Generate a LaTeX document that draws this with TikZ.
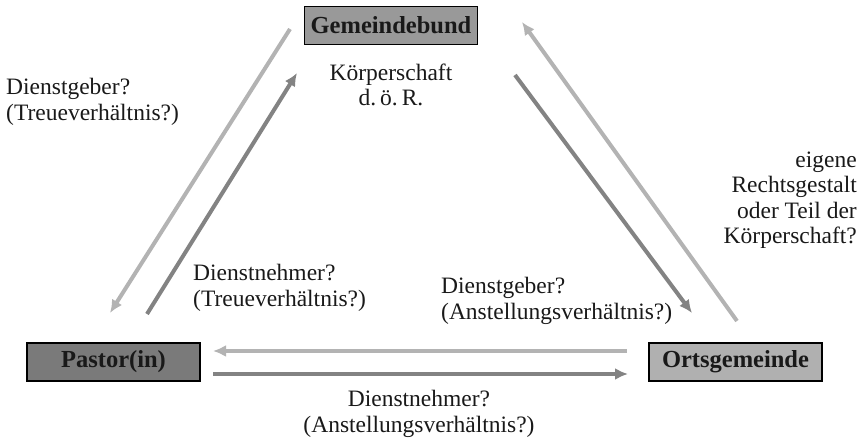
\documentclass[tikz,border=0pt]{standalone}
\usepackage{fontspec}
\setmainfont{Liberation Serif}
\usetikzlibrary{arrows.meta}
\definecolor{boxA}{HTML}{999999}
\definecolor{boxB}{HTML}{7A7A7A}
\definecolor{boxC}{HTML}{B0B0B0}
\definecolor{arrDark}{HTML}{838383}
\definecolor{arrLight}{HTML}{B3B3B3}
\tikzset{
  entity/.style={draw=black, line width=1.3pt, minimum width=173pt, minimum height=38pt,
    inner sep=0pt, font=\fontsize{24.5}{28}\selectfont\bfseries, text=black!90},
  lbl/.style={font=\fontsize{23.5}{25.5}\selectfont, text=black!90, inner sep=0pt},
  darkarrow/.style={draw=arrDark, line width=4pt, -{Latex[length=13pt,width=12pt]}},
  lightarrow/.style={draw=arrLight, line width=4pt, -{Latex[length=13pt,width=12pt]}},
}
\begin{document}
\begin{tikzpicture}[x=1pt,y=-1pt]
\useasboundingbox (0,0) rectangle (860,443);
% boxes
\node[entity, fill=boxA] (gb) at (391,25.5) {Gemeindebund};
\node[entity, fill=boxB] (pa) at (113.5,362) {Pastor(in)};
\node[entity, fill=boxC] (og) at (735.5,362) {Ortsgemeinde};
% labels
\node[lbl, align=center] (kd) at (391,85) {Körperschaft\\d.\,ö.\,R.};
\node[lbl, align=left, anchor=west] (l1) at (6,102) {Dienstgeber?\\(Treueverhältnis?)};
\node[lbl, align=left, anchor=west] (l2) at (193,288) {Dienstnehmer?\\(Treueverhältnis?)};
\node[lbl, align=left, anchor=west] (l3) at (441,301) {Dienstgeber?\\(Anstellungsverhältnis?)};
\node[lbl, align=center] (l4) at (419,414) {Dienstnehmer?\\(Anstellungsverhältnis?)};
\node[lbl, align=right, anchor=east] (l5) at (857,200) {eigene\\Rechtsgestalt\\oder Teil der\\Körperschaft?};
% arrow endpoints
\coordinate (a1s) at (290,29);
\coordinate (a1e) at (110,313);
\coordinate (a2s) at (147,314);
\coordinate (a2e) at (297,73);
\coordinate (a3s) at (515,75);
\coordinate (a3e) at (692,313);
\coordinate (a4s) at (737,321);
\coordinate (a4e) at (522,22);
\coordinate (a5s) at (627,351);
\coordinate (a5e) at (213,351);
\coordinate (a6s) at (213,374);
\coordinate (a6e) at (628,374);
% arrows
\draw[lightarrow] (a1s) -- (a1e);
\draw[darkarrow] (a2s) -- (a2e);
\draw[darkarrow] (a3s) -- (a3e);
\draw[lightarrow] (a4s) -- (a4e);
\draw[lightarrow] (a5s) -- (a5e);
\draw[darkarrow] (a6s) -- (a6e);
\end{tikzpicture}
\end{document}
